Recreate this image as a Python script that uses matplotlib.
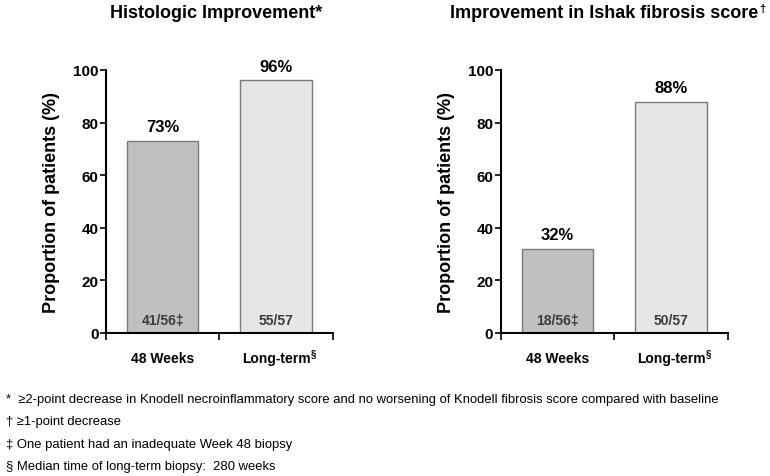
import matplotlib
matplotlib.use('Agg')
import matplotlib.pyplot as plt

plt.rcParams['font.family'] = ['Liberation Sans', 'DejaVu Sans']

# data
categories = ['48 Weeks', 'Long-term']
cat_marks = ['', '\u00a7']
titles = ['Histologic Improvement*', 'Improvement in Ishak fibrosis score']
title_marks = ['', '\u2020']
values_hist = [73, 96]
values_ishak = [32, 88]
counts_hist = ['41/56\u2021', '55/57']
counts_ishak = ['18/56\u2021', '50/57']
footnotes = [
    '*  \u22652-point decrease in Knodell necroinflammatory score and no worsening of Knodell fibrosis score compared with baseline',
    '\u2020 \u22651-point decrease',
    '\u2021 One patient had an inadequate Week 48 biopsy',
    '\u00a7 Median time of long-term biopsy:  280 weeks',
]

bar_colors = ['#c0c0c0', '#e6e6e6']

fig = plt.figure(figsize=(7.7, 4.77), dpi=100)

panels = [
    (0.1377, titles[0], title_marks[0], values_hist, counts_hist, 0.281),
    (0.6506, titles[1], title_marks[1], values_ishak, counts_ishak, 0.785),
]

for left, title, tmark, vals, counts, title_x in panels:
    ax = fig.add_axes([left, 0.2998, 0.2945, 0.5514])
    xs = [0.5, 1.5]
    ax.bar(xs, vals, width=0.63, color=bar_colors, edgecolor='#7a7a7a', linewidth=1.0)
    ax.set_xlim(0, 2)
    ax.set_ylim(0, 100)
    ax.set_yticks([0, 20, 40, 60, 80, 100])
    ax.set_xticks([0, 1, 2])
    ax.set_xticklabels([])
    ax.set_xticks(xs, minor=True)
    ax.set_xticklabels(categories, minor=True, fontsize=10, fontweight='bold')
    ax.tick_params(axis='x', which='minor', length=0, pad=13)
    ax.tick_params(axis='x', which='major', length=5, width=1.2, direction='out')
    ax.tick_params(axis='y', length=4, width=1.2, direction='out', labelsize=11, pad=1.5)
    for lab in ax.get_yticklabels():
        lab.set_fontweight('bold')
    for s in ['top', 'right']:
        ax.spines[s].set_visible(False)
    for s in ['left', 'bottom']:
        ax.spines[s].set_linewidth(1.5)
    ax.set_ylabel('Proportion of patients (%)', fontsize=13, fontweight='bold', labelpad=9)
    for x, v, c in zip(xs, vals, counts):
        ax.text(x, v + 2.5, f'{v}%', ha='center', va='bottom', fontsize=12, fontweight='bold')
        ax.text(x, 2.3, c, ha='center', va='bottom', fontsize=10, fontweight='bold', color='#3c3c3c')
    # superscript marks after category labels
    for lab, mark in zip(ax.get_xticklabels(minor=True), cat_marks):
        if mark:
            ax.annotate(mark, xy=(1, 0.85), xycoords=lab, xytext=(0.3, 0), textcoords='offset points',
                        ha='left', va='center', fontsize=7, fontweight='bold')
    t = fig.text(title_x, 0.972, title, ha='center', va='center', fontsize=13, fontweight='bold')
    if tmark:
        ax.annotate(tmark, xy=(1, 0.75), xycoords=t, xytext=(0.3, 0), textcoords='offset points',
                    ha='left', va='center', fontsize=8, fontweight='bold', annotation_clip=False)

for i, line in enumerate(footnotes):
    fig.text(0.008, 1 - (400 + i * 22.5) / 477, line, ha='left', va='center', fontsize=9.4)

fig.savefig('out.png', dpi=100)
